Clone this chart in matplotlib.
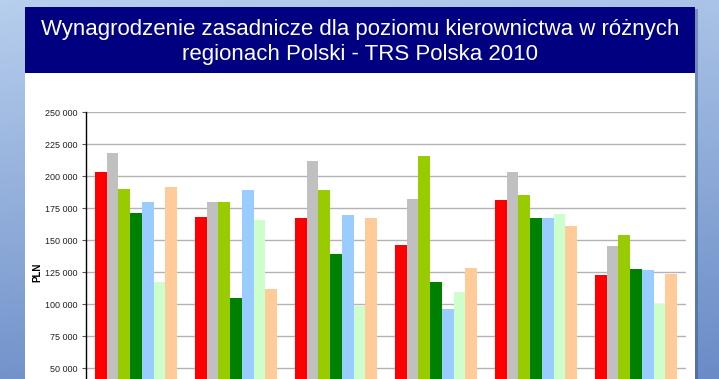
import numpy as np
import matplotlib
matplotlib.use("Agg")
import matplotlib.pyplot as plt
from matplotlib.patches import Rectangle
from matplotlib.ticker import FuncFormatter

plt.rcParams['font.family'] = ['Liberation Sans', 'DejaVu Sans']

title = "Wynagrodzenie zasadnicze dla poziomu kierownictwa w różnych\nregionach Polski - TRS Polska 2010"
regions = ["Region 1", "Region 2", "Region 3", "Region 4", "Region 5", "Region 6"]
series_colors = ["#FF0000", "#C0C0C0", "#99CC00", "#008000", "#99CCFF", "#CCFFCC", "#FFCC99"]

s1 = [203400, 168200, 167400, 146300, 181500, 122900]
s2 = [218200, 180000, 212000, 182300, 203400, 145500]
s3 = [190100, 180000, 189300, 215900, 185400, 154100]
s4 = [171300, 104900, 139300, 117400, 167400, 127600]
s5 = [180000, 189300, 169800, 96300, 167400, 126800]
s6 = [117400, 165900, 98700, 109600, 170500, 100200]
s7 = [191600, 112000, 167400, 128400, 161200, 123700]
series = [s1, s2, s3, s4, s5, s6, s7]

yticks = [50000, 75000, 100000, 125000, 150000, 175000, 200000, 225000, 250000]

W, H = 719, 379
fig = plt.figure(figsize=(W / 100, H / 100), dpi=100)

# background gradient
bg = fig.add_axes([0, 0, 1, 1], zorder=0)
bg.set_axis_off()
yy, xx = np.mgrid[0:1:200j, 0:1:300j]
t = np.clip(0.15 + 0.6 * yy - 0.15 * (1 - yy) * (1 - xx) + 0.1 * xx * yy, 0, 1)
c_top = np.array([0.72, 0.81, 0.93])
c_bot = np.array([0.36, 0.50, 0.75])
img = c_top[None, None, :] * (1 - t[..., None]) + c_bot[None, None, :] * t[..., None]
bg.imshow(img, extent=[0, 1, 0, 1], aspect='auto', origin='upper')
bg.set_xlim(0, 1)
bg.set_ylim(0, 1)

# panel shadow + white panel
px0, px1, py0 = 25 / W, 695 / W, 7 / H
bg.add_patch(Rectangle((px0 + 3 / W, -0.1), px1 - px0, 1 - py0 + 0.1 - 2 / H,
                       facecolor="#2a4a7a", alpha=0.4, edgecolor='none', zorder=2))
bg.add_patch(Rectangle((px0, -0.1), px1 - px0, 1 - py0 + 0.1,
                       facecolor="white", edgecolor='none', zorder=3))
# title band
bg.add_patch(Rectangle((px0, 1 - 73 / H), px1 - px0, (73 - 7) / H,
                       facecolor="#000080", edgecolor='none', zorder=4))
bg.text((px0 + px1) / 2, 1 - 42 / H, title, color="white", fontsize=16.0,
        ha="center", va="center", linespacing=1.27, zorder=5)

# chart axes: 250000 at y=112.3 px, 0 at y=432.3 px; x from 86 to 686
top = 1 - 112.3 / H
bottom = 1 - 432.3 / H
ax = fig.add_axes([86 / W, bottom, 600 / W, top - bottom], zorder=1)
ax.patch.set_visible(False)

n = len(series)
bw = 0.117
x = np.arange(len(regions))
for i, (vals, col) in enumerate(zip(series, series_colors)):
    offs = (i - (n - 1) / 2) * bw
    ax.bar(x + offs, vals, width=bw, color=col, edgecolor='none', zorder=3)

ax.set_xlim(-0.5, len(regions) - 0.5)
ax.set_ylim(0, 250000)
ax.set_yticks(yticks)
ax.yaxis.set_major_formatter(FuncFormatter(lambda v, p: f"{int(v):,}".replace(",", " ")))
ax.grid(axis='y', color="#B3B3B3", linewidth=1.0, zorder=0)
ax.set_axisbelow(True)
for s in ['top', 'right', 'bottom']:
    ax.spines[s].set_visible(False)
ax.spines['left'].set_color('black')
ax.spines['left'].set_linewidth(1.0)
ax.tick_params(axis='y', length=3, width=0.8, color='#555555', labelsize=6.5,
               labelcolor='#222222', pad=3)
ax.tick_params(axis='x', length=0, labelbottom=False)
ax.set_ylabel("PLN", fontsize=7, fontweight='bold')
ax.yaxis.set_label_coords(-(86 - 42) / 600, (432.3 - 272) / 320)

fig.savefig("out.png", dpi=100)
